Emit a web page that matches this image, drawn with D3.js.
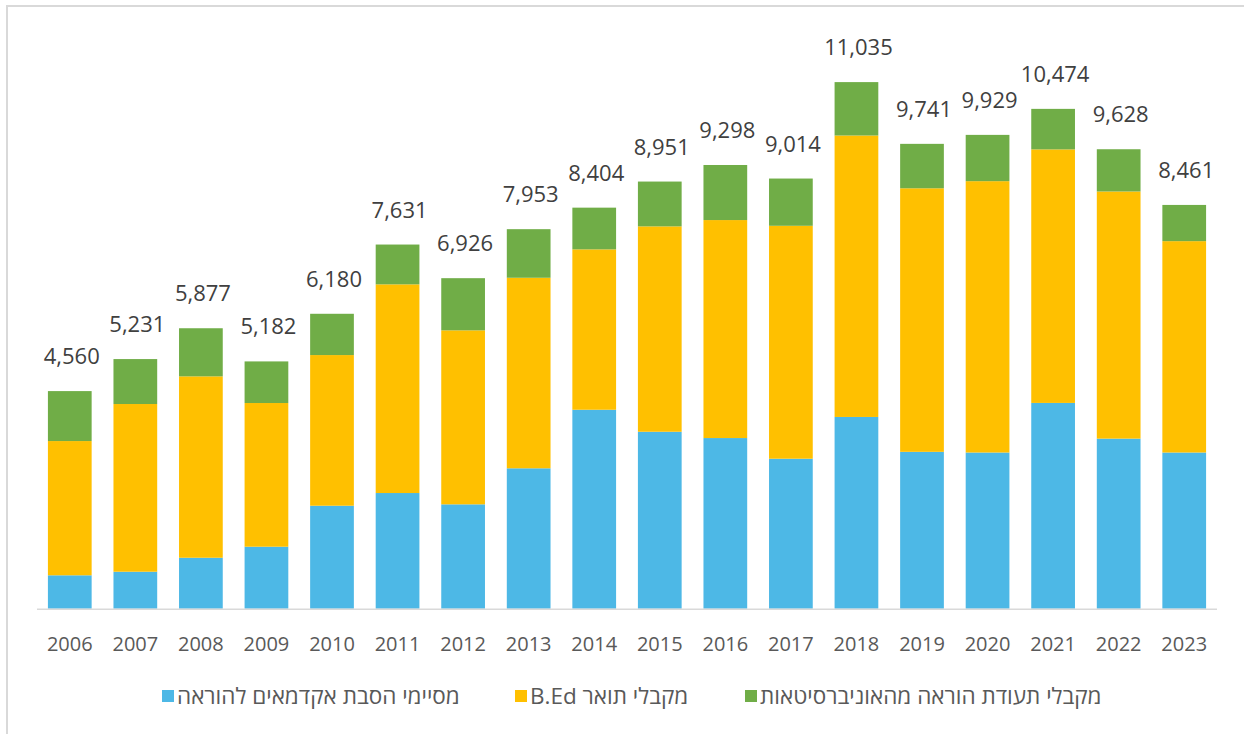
<!DOCTYPE html>
<html>
<head>
<meta charset="utf-8">
<script src="https://cdn.jsdelivr.net/npm/d3@7"></script>
<style>
  body { margin: 0; background: #fff; }
  text { font-family: "Open Sans", "DejaVu Sans", sans-serif; }
</style>
</head>
<body>
<div id="vis"></div>
<script>
// data
var years = ["2006","2007","2008","2009","2010","2011","2012","2013","2014","2015","2016","2017","2018","2019","2020","2021","2022","2023"];
var retrain = [700, 775, 1068, 1299, 2158, 2424, 2187, 2942, 4169, 3708, 3576, 3143, 4018, 3287, 3273, 4312, 3564, 3273];
var bed = [2813, 3514, 3801, 3011, 3157, 4373, 3646, 3993, 3361, 4304, 4568, 4881, 5898, 5523, 5686, 5313, 5179, 4429];
var univ = [1047, 942, 1008, 872, 865, 834, 1093, 1018, 874, 939, 1154, 990, 1119, 931, 970, 849, 885, 759];
var totals = [4560, 5231, 5877, 5182, 6180, 7631, 6926, 7953, 8404, 8951, 9298, 9014, 11035, 9741, 9929, 10474, 9628, 8461];

var seriesKeys = ["retrain", "bed", "univ"];
var seriesNames = ["מסיימי הסבת אקדמאים להוראה", "מקבלי תואר B.Ed", "מקבלי תעודת הוראה מהאוניברסיטאות"];
var colors = ["#4DB8E6", "#FFC000", "#70AD47"];

var W = 1244, H = 734;
var baseY = 608.7;

var table = years.map(function(y, i) {
  return {year: y, retrain: retrain[i], bed: bed[i], univ: univ[i], total: totals[i]};
});

var svg = d3.select("#vis").append("svg")
    .attr("width", W)
    .attr("height", H);

// chart frame (only top/left edges are visible in the picture)
svg.append("rect")
    .attr("x", 7).attr("y", 6)
    .attr("width", W + 20).attr("height", H + 20)
    .attr("fill", "none")
    .attr("stroke", "#d9d9d9")
    .attr("stroke-width", 2);

var x = d3.scaleBand()
    .domain(years)
    .range([37, 1217])
    .paddingInner(0.333)
    .paddingOuter(0.1665);

var y = d3.scaleLinear()
    .domain([0, 11035])
    .range([baseY, 82.1]);

var stack = d3.stack().keys(seriesKeys);
var layers = stack(table);

var g = svg.append("g");

g.selectAll("g.layer")
  .data(layers)
  .enter().append("g")
    .attr("class", "layer")
    .attr("fill", function(d, i) { return colors[i]; })
  .selectAll("rect")
  .data(function(d) { return d; })
  .enter().append("rect")
    .attr("x", function(d) { return x(d.data.year); })
    .attr("y", function(d) { return y(d[1]); })
    .attr("width", x.bandwidth())
    .attr("height", function(d) { return y(d[0]) - y(d[1]); });

// x axis line
svg.append("line")
    .attr("x1", 37).attr("x2", 1217)
    .attr("y1", baseY + 0.5).attr("y2", baseY + 0.5)
    .attr("stroke", "#d9d9d9")
    .attr("stroke-width", 1.5);

// year labels
svg.selectAll("text.year")
  .data(years)
  .enter().append("text")
    .attr("class", "year")
    .attr("x", function(d) { return x(d) + x.bandwidth() / 2; })
    .attr("y", 651)
    .attr("text-anchor", "middle")
    .attr("font-size", 20)
    .attr("fill", "#595959")
    .text(function(d) { return d; });

// total labels
svg.selectAll("text.total")
  .data(table)
  .enter().append("text")
    .attr("class", "total")
    .attr("x", function(d) { return x(d.year) + x.bandwidth() / 2 + 2; })
    .attr("y", function(d) { return y(d.total) - 27; })
    .attr("text-anchor", "middle")
    .attr("font-size", 22)
    .attr("fill", "#404040")
    .text(function(d) { return d3.format(",")(d.total); });

// legend
var legendX = [162, 515, 745];
var legend = svg.append("g");
seriesNames.forEach(function(name, i) {
  legend.append("rect")
      .attr("x", legendX[i]).attr("y", 690)
      .attr("width", 12).attr("height", 12)
      .attr("fill", colors[i]);
  legend.append("text")
      .attr("x", legendX[i] + 15)
      .attr("y", 704)
      .attr("direction", "rtl")
      .attr("text-anchor", "end")
      .attr("font-size", 22.5)
      .attr("fill", "#595959")
      .text(name);
});
</script>
</body>
</html>
